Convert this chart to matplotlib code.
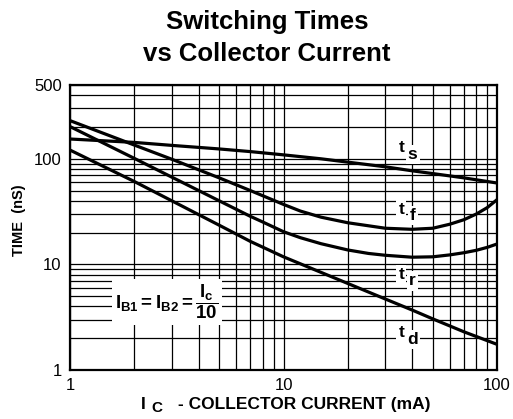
import matplotlib
matplotlib.use("Agg")
import matplotlib.pyplot as plt
from matplotlib.ticker import NullFormatter, LogLocator

plt.rcParams["font.family"] = ["Liberation Sans", "DejaVu Sans"]
plt.rcParams["mathtext.fontset"] = "custom"
plt.rcParams["mathtext.rm"] = "Liberation Sans"
plt.rcParams["mathtext.it"] = "Liberation Sans:bold"
plt.rcParams["mathtext.bf"] = "Liberation Sans:bold"
plt.rcParams["mathtext.default"] = "bf"

# collector current (mA) and switching times (nS)
ic_ts = [1, 2, 3, 5, 7, 10, 15, 20, 30, 40, 50, 70, 100]
ts = [154, 143, 134, 124, 117, 109, 100, 93, 84, 77, 72.5, 66, 59]

ic_tf = [1, 2, 3, 5, 7, 10, 12, 15, 20, 30, 40, 50, 60, 70, 80, 90, 100]
tf = [230, 135, 99, 66, 50, 37, 32, 28, 24.8, 22, 21.5, 22, 24, 26.5, 30, 34.5, 41]

ic_tr = [1, 2, 3, 5, 7, 8, 10, 12, 15, 20, 25, 30, 40, 50, 60, 70, 80, 90, 100]
tr = [202, 101, 67, 40, 28.5, 25.2, 20.4, 17.9, 15.7, 13.7, 12.7, 12.2, 11.7, 11.8, 12.3, 12.9, 13.6, 14.5, 15.6]

ic_td = [1, 2, 3, 5, 7, 10, 15, 20, 30, 40, 50, 70, 100]
td = [121, 61, 40, 23.5, 16.5, 11.8, 8.4, 6.6, 4.7, 3.7, 3.05, 2.3, 1.75]

curve_subs = ["s", "f", "r", "d"]
label_x = 38
label_y = [119, 31.3, 7.5, 2.1]

x_ticks = [1, 10, 100]
y_ticks = [1, 10, 100, 500]

fig = plt.figure(figsize=(5.13, 4.19), dpi=100)
ax = fig.add_axes([70 / 513, 1 - 370 / 419, 427 / 513, 285 / 419])

for xs, ys in [(ic_ts, ts), (ic_tf, tf), (ic_tr, tr), (ic_td, td)]:
    ax.plot(xs, ys, color="black", lw=2.3, solid_capstyle="butt", zorder=3)

ax.set_xscale("log")
ax.set_yscale("log")
ax.set_xlim(1, 100)
ax.set_ylim(1, 500)
ax.set_xticks(x_ticks, [str(v) for v in x_ticks])
ax.set_yticks(y_ticks, [str(v) for v in y_ticks])
ax.xaxis.set_minor_locator(LogLocator(subs=range(2, 10)))
ax.yaxis.set_minor_locator(LogLocator(subs=range(2, 10)))
ax.xaxis.set_minor_formatter(NullFormatter())
ax.yaxis.set_minor_formatter(NullFormatter())
ax.tick_params(which="both", length=0, labelsize=12)
ax.tick_params(axis="x", pad=6)
ax.tick_params(axis="y", pad=6)
ax.grid(which="both", color="black", lw=0.9, zorder=1)
for sp in ax.spines.values():
    sp.set_linewidth(1.6)

box = dict(facecolor="white", edgecolor="none", pad=1.5)
for sub, yv in zip(curve_subs, label_y):
    ax.annotate("t", (label_x, yv), xytext=(-4.3, 2.2), textcoords="offset points",
                fontsize=12.5, fontweight="bold", ha="center", va="center",
                zorder=4, bbox=box)
    ax.annotate(sub, (label_x, yv), xytext=(3.8, -2.4), textcoords="offset points",
                fontsize=12.5, fontweight="bold", ha="center", va="center",
                zorder=4, bbox=box)

ax.text(2.85, 4.4, r"$I_{B1}= I_{B2}=\dfrac{I_c}{10}$", fontsize=13.5,
        ha="center", va="center", zorder=4,
        bbox=dict(facecolor="white", edgecolor="none", pad=2.5))

fig.text(267 / 513, 1 - 22 / 419, "Switching Times", fontsize=18.5,
         fontweight="bold", ha="center", va="center")
fig.text(267 / 513, 1 - 54 / 419, "vs Collector Current", fontsize=18.5,
         fontweight="bold", ha="center", va="center")

fig.text(19 / 513, 1 - 220 / 419, "TIME  (nS)", fontsize=10.5,
         fontweight="bold", rotation=90, ha="center", va="center")
fig.text(143 / 513, 1 - 404 / 419, "I", fontsize=12.5,
         fontweight="bold", ha="center", va="center")
fig.text(157 / 513, 1 - 408 / 419, "C", fontsize=11,
         fontweight="bold", ha="center", va="center")
fig.text(178 / 513, 1 - 404 / 419, "- COLLECTOR CURRENT (mA)", fontsize=12.5,
         fontweight="bold", ha="left", va="center")

fig.savefig("out.png", dpi=100)
